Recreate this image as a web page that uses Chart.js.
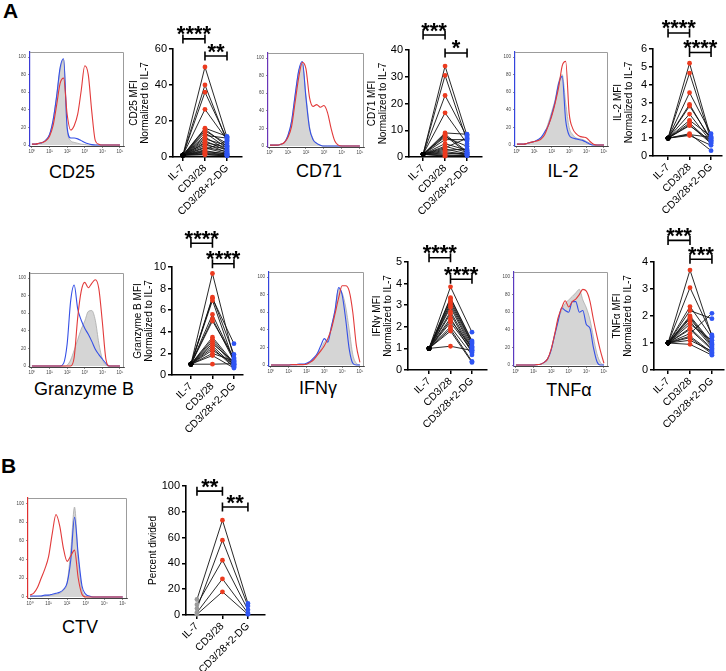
<!DOCTYPE html>
<html>
<head>
<meta charset="utf-8">
<title>Figure</title>
<script src="https://cdn.jsdelivr.net/npm/chart.js@4.4.1/dist/chart.umd.min.js"></script>
<style>
  body { margin: 0; width: 726px; height: 671px; position: relative; overflow: hidden; background: #fff;
         font-family: "Liberation Sans", Arial, sans-serif; }
  canvas { position: absolute; }
  .panel { position: absolute; font-weight: bold; font-size: 21px; line-height: 1; }
  .marker { position: absolute; width: 140px; text-align: center; font-size: 18px; line-height: 1; }
</style>
</head>
<body>
<div class="panel" style="left:3px;top:0px">A</div>
<div class="panel" style="left:1px;top:455px">B</div>
<div class="marker" style="left:2px;top:163px">CD25</div>
<div class="marker" style="left:249px;top:162px">CD71</div>
<div class="marker" style="left:493px;top:162px">IL-2</div>
<div class="marker" style="left:14px;top:380px">Granzyme B</div>
<div class="marker" style="left:248px;top:379px">IFNγ</div>
<div class="marker" style="left:499px;top:381px">TNFα</div>
<div class="marker" style="left:10px;top:618px">CTV</div>
<script>
Chart.defaults.font.family = '"Liberation Sans", Arial, sans-serif';
Chart.defaults.color = '#000';

var groups = ['IL-7', 'CD3/28', 'CD3/28+2-DG'];

// histogram x positions, in decades (log10 of fluorescence)
var decades = [0, 0.2, 0.4, 0.6, 0.8, 1, 1.2, 1.4, 1.6, 1.8, 2, 2.2, 2.4, 2.6, 2.8, 3, 3.2, 3.4, 3.6, 3.8, 4, 4.2, 4.4, 4.6, 4.8, 5];
var decadeTicks = [0, 1, 2, 3, 4, 5];
var decadeLabels = ['10⁰', '10¹', '10²', '10³', '10⁴', '10⁵'];
var countTicks = [0, 20, 40, 60, 80, 100];

// histograms (% of max): grey = IL-7, red = CD3/28, blue = CD3/28+2-DG
var cd25Grey = [1, 1, 2, 3, 6, 12, 28, 55, 85, 97, 18, 5, 3, 2, 1, 0.5, 0, 0, 0, 0, 0, 0, 0, 0, 0, 0];
var cd25Blue = [1, 1, 2, 3, 6, 12, 28, 55, 88, 98, 20, 8, 8, 7, 5, 3, 1.5, 0.5, 0, 0, 0, 0, 0, 0, 0, 0];
var cd25Red = [1, 1, 2, 3, 5, 10, 22, 45, 70, 76, 35, 17, 22, 35, 62, 90, 80, 38, 5, 1, 0, 0, 0, 0, 0, 0];

var cd71Grey = [1, 1, 1, 2, 4, 12, 28, 58, 85, 93, 58, 22, 8, 3, 1, 0, 0, 0, 0, 0, 0, 0, 0, 0, 0, 0];
var cd71Blue = [1, 1, 1, 2, 4, 12, 28, 58, 86, 96, 55, 20, 7, 3, 1, 0, 0, 0, 0, 0, 0, 0, 0, 0, 0, 0];
var cd71Red = [1, 1, 1, 2, 4, 10, 22, 50, 78, 95, 88, 55, 45, 47, 44, 46, 38, 20, 6, 1, 0, 0, 0, 0, 0, 0];

var il2Grey = [1, 1, 1, 2, 3, 4, 6, 8, 14, 25, 38, 52, 72, 80, 48, 20, 12, 8, 7, 6, 4, 2, 0, 0, 0, 0];
var il2Blue = [1, 1, 1, 2, 3, 4, 6, 9, 15, 22, 35, 50, 70, 78, 28, 11, 8, 7, 6, 5, 3, 1, 0, 0, 0, 0];
var il2Red = [1, 1, 1, 2, 3, 4, 5, 7, 12, 22, 33, 48, 66, 90, 95, 36, 19, 13, 10, 9, 8, 4, 1, 0, 0, 0];

var gzmbGrey = [0, 0, 0, 0, 0, 0, 0, 0, 0, 0, 1, 7, 18, 30, 42, 51, 62, 63, 52, 26, 8, 1, 0, 0, 0, 0];
var gzmbBlue = [0, 0, 0, 0, 0, 0, 0, 0, 0, 3, 25, 74, 92, 65, 52, 43, 36, 28, 19, 13, 8, 3, 0, 0, 0, 0];
var gzmbRed = [0, 0, 0, 0, 0, 0, 0, 0, 0, 0, 0, 0, 10, 55, 85, 95, 89, 94, 98, 88, 50, 8, 0, 0, 0, 0];

var ifngGrey = [0, 0, 0, 0, 0, 0, 0.5, 0.5, 0.5, 0.5, 1, 3, 7, 12, 18, 26, 30, 44, 62, 86, 82, 66, 40, 12, 2, 0];
var ifngBlue = [0, 0, 0, 0, 0, 0, 0.5, 0.5, 1, 1, 2, 4, 8, 13, 22, 30, 26, 44, 62, 88, 80, 52, 18, 2, 0, 0];
var ifngRed = [0, 0, 0, 0, 0, 0, 0.5, 0.5, 0.5, 0.5, 1, 3, 6, 11, 16, 22, 30, 41, 58, 76, 90, 90, 84, 60, 22, 3];

var tnfaGrey = [0, 0, 0, 0, 0, 0, 0.5, 1, 3, 7, 17, 34, 52, 62, 70, 74, 78, 82, 86, 74, 65, 52, 32, 13, 3, 0];
var tnfaBlue = [0, 0, 0, 0, 0, 0, 0.5, 1, 3, 7, 17, 34, 50, 65, 62, 60, 72, 72, 60, 62, 46, 42, 20, 4, 0, 0];
var tnfaRed = [0, 0, 0, 0, 0, 0, 0.5, 1, 3, 7, 18, 35, 54, 65, 73, 66, 72, 75, 80, 86, 84, 73, 52, 33, 16, 2];

var ctvGrey = [0.5, 0.5, 0.5, 1, 1, 2, 2, 3, 4, 7, 15, 50, 96, 40, 8, 1, 0, 0, 0, 0, 0, 0, 0, 0, 0, 0];
var ctvBlue = [1, 1, 1, 1, 2, 2, 3, 4, 5, 8, 15, 40, 85, 45, 12, 3, 1, 0, 0, 0, 0, 0, 0, 0, 0, 0];
var ctvRed = [2, 4, 10, 20, 30, 43, 68, 88, 76, 52, 38, 44, 50, 20, 3, 0, 0, 0, 0, 0, 0, 0, 0, 0, 0, 0];

// MFI normalized to IL-7, one entry per donor
var cd25Il7 = [1, 1, 1, 1, 1, 1, 1, 1, 1, 1, 1, 1, 1, 1, 1, 1, 1, 1, 1, 1, 1, 1, 1, 1];
var cd25Stim = [50, 40, 36, 26.5, 16, 15.5, 14.5, 13.5, 12, 11, 10, 9, 8, 7.5, 6.5, 5.5, 5, 4, 3.5, 3, 2.5, 2, 1.5, 1.2];
var cd25Dg = [11, 8.5, 10, 9.5, 11.5, 6, 7.5, 5, 10.5, 4, 6.5, 3.5, 5.5, 2.5, 4.5, 3, 2, 9, 1.5, 1.8, 1.2, 1, 0.8, 0.6];

var cd71Il7 = [1, 1, 1, 1, 1, 1, 1, 1, 1, 1, 1, 1, 1, 1, 1, 1, 1, 1, 1];
var cd71Stim = [34, 30.5, 23, 16.5, 9, 8.5, 8, 7.5, 6.5, 5, 4, 3.5, 3, 2.5, 2, 1.5, 1, 0.5, 0.3];
var cd71Dg = [8, 6, 7.5, 5, 8.5, 2, 1.5, 4, 6.5, 2.5, 1.8, 7, 1.2, 3, 1, 0.8, 1.5, 0.6, 0.5];

var il2Il7 = [1, 1, 1, 1, 1, 1, 1, 1, 1, 1, 1, 1, 1];
var il2Stim = [5.2, 4.65, 3.55, 2.9, 2.8, 2.35, 2.0, 1.85, 1.75, 1.7, 1.25, 1.2, 1.15];
var il2Dg = [1.0, 0.9, 1.25, 0.85, 0.95, 0.8, 1.1, 0.75, 0.7, 0.85, 0.3, 1.05, 0.6];

var gzmbIl7 = [1, 1, 1, 1, 1, 1, 1, 1, 1, 1, 1, 1, 1, 1, 1, 1, 1];
var gzmbStim = [9.4, 7.2, 7.1, 6.9, 5.6, 5.2, 5.0, 3.5, 3.3, 3.1, 2.9, 2.7, 2.5, 2.3, 2.0, 1.8, 1.0];
var gzmbDg = [1.5, 1.9, 2.9, 1.2, 1.4, 1.3, 1.6, 1.1, 1.0, 0.9, 1.2, 0.8, 0.7, 1.0, 1.3, 0.65, 1.05];

var ifngIl7 = [1, 1, 1, 1, 1, 1, 1, 1, 1, 1, 1, 1, 1, 1, 1, 1];
var ifngStim = [3.85, 3.35, 3.3, 3.2, 3.1, 3.0, 2.9, 2.7, 2.6, 2.4, 2.3, 2.2, 2.0, 1.9, 1.8, 1.1];
var ifngDg = [1.75, 1.35, 1.3, 1.25, 1.2, 1.1, 1.0, 0.95, 0.85, 0.8, 1.05, 0.9, 0.7, 0.4, 0.35, 0.9];

var tnfaIl7 = [1, 1, 1, 1, 1, 1, 1, 1, 1, 1, 1, 1, 1, 1, 1, 1];
var tnfaStim = [3.7, 3.05, 2.35, 2.2, 2.0, 1.95, 1.9, 1.8, 1.7, 1.55, 1.5, 1.35, 1.25, 1.2, 1.1, 0.95];
var tnfaDg = [1.25, 1.3, 1.2, 1.9, 1.0, 0.95, 0.9, 0.85, 1.1, 0.8, 0.75, 2.1, 0.65, 0.6, 0.7, 0.55];

// percent divided (CTV)
var ctvIl7 = [12, 5, 8, 2, 0.5];
var ctvStim = [73.5, 58, 42.5, 28, 18];
var ctvDg = [9, 7, 4, 1.5, 0.5];

var RED = '#ec3b1f', BLUE = '#2f55f4';
var HRED = '#e23a3a', HBLUE = '#3550e6';

function addCanvas(left, top, width, height) {
    var c = document.createElement('canvas');
    c.width = width;
    c.height = height;
    c.style.left = left + 'px';
    c.style.top = top + 'px';
    document.body.appendChild(c);
    return c;
}

function points(vals) {
    return decades.map(function (d, i) { return { x: d, y: vals[i] }; });
}

var framePlugin = {
    id: 'frame',
    afterDraw: function (chart) {
        var a = chart.chartArea, ctx = chart.ctx;
        ctx.save();
        ctx.strokeStyle = '#9c9c9c';
        ctx.lineWidth = 1;
        ctx.beginPath();
        ctx.moveTo(a.left, a.top + 0.5);
        ctx.lineTo(a.right - 0.5, a.top + 0.5);
        ctx.lineTo(a.right - 0.5, a.bottom);
        ctx.stroke();
        ctx.restore();
    }
};

function histogram(box, grey, red, blue, edge) {
    var w = box[2] - box[0], h = box[3] - box[1];
    var c = addCanvas(box[0] - 22, box[1] - 6, w + 25, h + 16);
    new Chart(c, {
        type: 'scatter',
        data: {
            datasets: [
                { data: points(red), showLine: true, borderColor: HRED, borderWidth: 1.1, pointRadius: 0, cubicInterpolationMode: 'monotone', order: 1 },
                { data: points(blue), showLine: true, borderColor: HBLUE, borderWidth: 1.1, pointRadius: 0, cubicInterpolationMode: 'monotone', order: 2 },
                { data: points(grey), showLine: true, borderColor: '#a9a9a9', borderWidth: 0.8, backgroundColor: '#d5d5d5', fill: 'origin', pointRadius: 0, cubicInterpolationMode: 'monotone', order: 3 }
            ]
        },
        options: {
            responsive: false, animation: false, events: [], devicePixelRatio: 1,
            layout: { autoPadding: false, padding: { top: 6, right: 3, left: 0, bottom: 0 } },
            plugins: { legend: { display: false }, tooltip: { enabled: false } },
            scales: {
                x: {
                    type: 'linear', min: -0.11, max: 5.23,
                    afterBuildTicks: function (s) { s.ticks = decadeTicks.map(function (v) { return { value: v }; }); },
                    afterFit: function (s) { s.height = 10; },
                    ticks: { callback: function (v) { return decadeLabels[v]; }, font: { size: 4.5 }, color: '#444', padding: 1, maxRotation: 0, autoSkip: false },
                    grid: { display: true, drawOnChartArea: false, tickLength: 2, color: '#444', lineWidth: 0.6 },
                    border: { color: '#444', width: 1 }
                },
                y: {
                    min: -1.1, max: 105.7,
                    afterBuildTicks: function (s) { s.ticks = countTicks.map(function (v) { return { value: v }; }); },
                    afterFit: function (s) { s.width = 22; },
                    ticks: { font: { size: 4.5 }, color: '#444', padding: 2 },
                    grid: { display: true, drawOnChartArea: false, tickLength: 2, color: '#444', lineWidth: 0.6 },
                    border: { color: edge, width: 1.2 }
                }
            }
        },
        plugins: [framePlugin]
    });
}

function bracketPlugin(brackets) {
    return {
        id: 'brackets',
        afterDraw: function (chart) {
            var ctx = chart.ctx, x = chart.scales.x, y = chart.scales.y;
            ctx.save();
            ctx.strokeStyle = '#000';
            ctx.fillStyle = '#000';
            ctx.lineWidth = 1.6;
            brackets.forEach(function (b) {
                var x1 = x.getPixelForValue(b.from), x2 = x.getPixelForValue(b.to), by = y.getPixelForValue(b.at);
                ctx.beginPath();
                ctx.moveTo(x1, by); ctx.lineTo(x2, by);
                ctx.moveTo(x1, by - 4.5); ctx.lineTo(x1, by + 4.5);
                ctx.moveTo(x2, by - 4.5); ctx.lineTo(x2, by + 4.5);
                ctx.stroke();
                ctx.font = 'bold 22px "Liberation Sans", Arial, sans-serif';
                ctx.textAlign = 'center';
                ctx.textBaseline = 'alphabetic';
                ctx.fillText(b.label, (x1 + x2) / 2, by + 2.5);
            });
            ctx.restore();
        }
    };
}

function dotPlot(p) {
    var width = Math.min(p.xEnd + 3 - p.left, 726 - p.left);
    var height = p.yBottom + 60 - p.top;
    var c = addCanvas(p.left, p.top, width, height);
    var marks = function (vals, x, color) {
        return {
            data: vals.map(function (v) { return { x: x, y: v }; }),
            pointRadius: 2.4, pointBackgroundColor: color, backgroundColor: color, pointBorderWidth: 0,
            order: 0, clip: false
        };
    };
    var links = p.il7.map(function (v, i) {
        return {
            data: [{ x: 0, y: v }, { x: 1, y: p.stim[i] }, { x: 2, y: p.dg[i] }],
            showLine: true, borderColor: '#111', borderWidth: 0.9, pointRadius: 0, order: 5, clip: false
        };
    });
    new Chart(c, {
        type: 'scatter',
        data: { datasets: [marks(p.il7, 0, p.il7Color || '#000'), marks(p.stim, 1, RED), marks(p.dg, 2, BLUE)].concat(links) },
        options: {
            responsive: false, animation: false, events: [], devicePixelRatio: 1,
            layout: { autoPadding: false, padding: { top: p.yTop - p.top, right: width - (p.xEnd - p.left), left: 0, bottom: 0 } },
            plugins: { legend: { display: false }, tooltip: { enabled: false } },
            scales: {
                x: {
                    type: 'linear', min: p.xMin, max: p.xMax,
                    afterBuildTicks: function (s) { s.ticks = groups.map(function (g, i) { return { value: i }; }); },
                    afterFit: function (s) { s.height = height - (p.yBottom - p.top); },
                    ticks: { callback: function (v) { return groups[v]; }, minRotation: 45, maxRotation: 45, autoSkip: false, font: { size: 10.5 }, padding: 1 },
                    grid: { display: true, drawOnChartArea: false, tickLength: 4, color: '#000', lineWidth: 1.5 },
                    border: { color: '#000', width: 1.6 }
                },
                y: {
                    min: 0, max: p.yMax,
                    ticks: { stepSize: p.step, font: { size: 11 }, padding: 2 },
                    afterFit: function (s) { s.width = p.axisX - p.left; },
                    title: { display: true, text: p.title, font: { size: 10, lineHeight: 1.1 }, padding: 0 },
                    grid: { display: true, drawOnChartArea: false, tickLength: 4, color: '#000', lineWidth: 1.5 },
                    border: { color: '#000', width: 1.6 }
                }
            }
        },
        plugins: [bracketPlugin(p.brackets)]
    });
}

histogram([30, 52, 124, 146], cd25Grey, cd25Red, cd25Blue, '#3b3bd6');
histogram([268, 53, 364, 147], cd71Grey, cd71Red, cd71Blue, '#6a35b8');
histogram([515, 52, 608, 146], il2Grey, il2Red, il2Blue, '#3344dd');
histogram([30, 273, 124, 367], gzmbGrey, gzmbRed, gzmbBlue, '#444');
histogram([269, 272, 364, 366], ifngGrey, ifngRed, ifngBlue, '#3344dd');
histogram([514, 272, 608, 366], tnfaGrey, tnfaRed, tnfaBlue, '#5a3ac0');
histogram([28, 498, 127, 598], ctvGrey, ctvRed, ctvBlue, '#e03030');

dotPlot({ left: 129, top: 12, axisX: 173, yTop: 49, yBottom: 157, xEnd: 242, xMin: -0.45, xMax: 2.68,
    yMax: 60, step: 20, title: ['CD25 MFI', 'Normalized to IL-7'], il7: cd25Il7, stim: cd25Stim, dg: cd25Dg,
    brackets: [{ from: 0, to: 1, at: 65.6, label: '****' }, { from: 1, to: 2, at: 56.1, label: '**' }] });
dotPlot({ left: 367, top: 12, axisX: 409, yTop: 50, yBottom: 157, xEnd: 482, xMin: -0.64, xMax: 2.68,
    yMax: 40, step: 10, title: ['CD71 MFI', 'Normalized to IL-7'], il7: cd71Il7, stim: cd71Stim, dg: cd71Dg,
    brackets: [{ from: 0, to: 1, at: 45.6, label: '***' }, { from: 1, to: 2, at: 38.9, label: '*' }] });
dotPlot({ left: 613, top: 12, axisX: 653, yTop: 49, yBottom: 156, xEnd: 722, xMin: -0.7, xMax: 2.51,
    yMax: 6, step: 1, title: ['IL-2 MFI', 'Normalized to IL-7'], il7: il2Il7, stim: il2Stim, dg: il2Dg,
    brackets: [{ from: 0, to: 1, at: 6.9, label: '****' }, { from: 1, to: 2, at: 5.8, label: '****' }] });
dotPlot({ left: 133, top: 222, axisX: 172, yTop: 267, yBottom: 375, xEnd: 243, xMin: -0.88, xMax: 2.42,
    yMax: 10, step: 2, title: ['Granzyme B MFI', 'Normalized to IL-7'], il7: gzmbIl7, stim: gzmbStim, dg: gzmbDg,
    brackets: [{ from: 0, to: 1, at: 12.2, label: '****' }, { from: 1, to: 2, at: 10.3, label: '****' }] });
dotPlot({ left: 372, top: 222, axisX: 408, yTop: 262, yBottom: 370, xEnd: 487, xMin: -0.98, xMax: 2.7,
    yMax: 5, step: 1, title: ['IFNγ MFI', 'Normalized to IL-7'], il7: ifngIl7, stim: ifngStim, dg: ifngDg,
    brackets: [{ from: 0, to: 1, at: 5.2, label: '****' }, { from: 1, to: 2, at: 4.2, label: '****' }] });
dotPlot({ left: 612, top: 222, axisX: 654, yTop: 262, yBottom: 370, xEnd: 724, xMin: -0.64, xMax: 2.55,
    yMax: 4, step: 1, title: ['TNFα MFI', 'Normalized to IL-7'], il7: tnfaIl7, stim: tnfaStim, dg: tnfaDg,
    brackets: [{ from: 0, to: 1, at: 4.8, label: '***' }, { from: 1, to: 2, at: 4.1, label: '***' }] });
dotPlot({ left: 148, top: 470, axisX: 186, yTop: 486, yBottom: 615, xEnd: 265, xMin: -0.43, xMax: 2.67,
    yMax: 100, step: 20, title: 'Percent divided', il7: ctvIl7, stim: ctvStim, dg: ctvDg, il7Color: '#9a9a9a',
    brackets: [{ from: 0, to: 1, at: 96, label: '**' }, { from: 1, to: 2, at: 83.7, label: '**' }] });
</script>
</body>
</html>
